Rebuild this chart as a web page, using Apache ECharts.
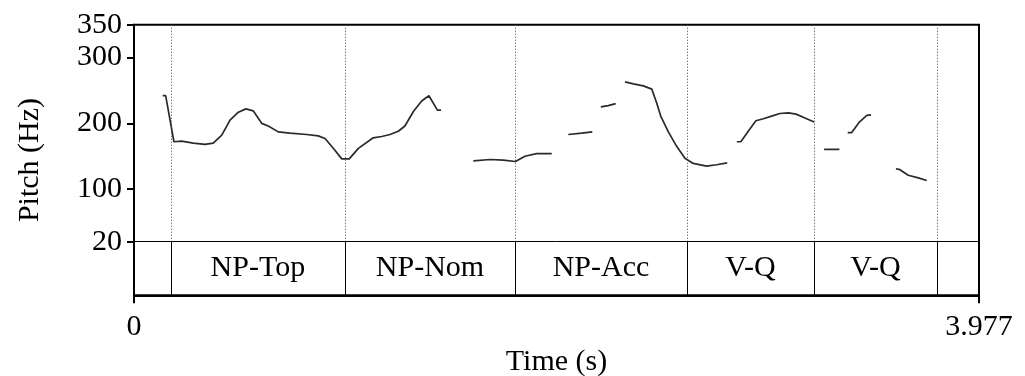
<!DOCTYPE html>
<html>
<head>
<meta charset="utf-8">
<script src="https://cdn.jsdelivr.net/npm/echarts@6/dist/echarts.min.js"></script>
<style>
  html, body { margin: 0; padding: 0; background: #fff; }
  #chart { width: 1025px; height: 376px; }
</style>
</head>
<body>
<div id="chart"></div>
<script>
// Time axis (s) and pitch axis (Hz)
const TIME_END = 3.977;
const TIME_TICKS = [0, 3.977];
const PITCH_TICKS = [20, 100, 200, 300, 350];
const PITCH_MAX = 350;
const TIER_FLOOR = -61.5;   // lower edge of the annotation tier, in Hz units of the axis

// Interval tier: boundaries (s) and labels
const tierBounds = [0.173, 0.993, 1.793, 2.603, 3.200, 3.779];
const tierLabels = ['NP-Top', 'NP-Nom', 'NP-Acc', 'V-Q', 'V-Q'];

// Pitch contour, voiced stretches as [time s, F0 Hz]
const seg1 = [
  [0.135, 242], [0.149, 242], [0.188, 172], [0.224, 173], [0.279, 170], [0.334, 168],
  [0.373, 170], [0.413, 182], [0.452, 205], [0.491, 217], [0.527, 222], [0.561, 219],
  [0.601, 200], [0.632, 196], [0.679, 187], [0.734, 185], [0.813, 183], [0.867, 181],
  [0.899, 177], [0.938, 162], [0.978, 146], [1.013, 146], [1.056, 162], [1.126, 178],
  [1.166, 180], [1.205, 183], [1.244, 188], [1.275, 196], [1.315, 218], [1.354, 234],
  [1.388, 242], [1.428, 220], [1.445, 220]
];
const seg2 = [
  [1.597, 143], [1.676, 145], [1.738, 144], [1.795, 142], [1.840, 150], [1.895, 154], [1.966, 154]
];
const seg3 = [[2.044, 183], [2.107, 185], [2.157, 187]];
const seg4 = [[2.197, 225], [2.232, 227], [2.267, 230]];
const seg5 = [
  [2.311, 263], [2.350, 260], [2.397, 257], [2.437, 252], [2.460, 231], [2.479, 211],
  [2.515, 187], [2.554, 165], [2.593, 147], [2.632, 139], [2.695, 135], [2.742, 137], [2.792, 140]
];
const seg6 = [
  [2.837, 172], [2.856, 172], [2.891, 188], [2.927, 204], [2.962, 207], [3.001, 211],
  [3.040, 215], [3.080, 216], [3.116, 214], [3.158, 208], [3.201, 202]
];
const seg7 = [[3.248, 160.5], [3.320, 160.5]];
const seg8 = [[3.359, 186], [3.378, 186], [3.414, 202], [3.449, 212], [3.469, 213]];
const seg9 = [[3.586, 131], [3.605, 129.5], [3.644, 121], [3.691, 117], [3.731, 113]];

const segments = [seg1, seg2, seg3, seg4, seg5, seg6, seg7, seg8, seg9];

// Join the voiced stretches into one series, with gaps between them
const contour = [];
segments.forEach((s, i) => {
  if (i > 0) contour.push([null, null]);
  s.forEach(p => contour.push(p));
});

const FONT = "'Liberation Serif', 'DejaVu Serif', serif";
const FS = 30;

// Tier boundary lines: dotted through the pitch area, solid inside the tier
const boundaryLines = [];
tierBounds.forEach(t => {
  boundaryLines.push([
    { coord: [t, 20], lineStyle: { type: [1, 2], color: '#444', width: 1 } },
    { coord: [t, PITCH_MAX] }
  ]);
  boundaryLines.push([
    { coord: [t, TIER_FLOOR], lineStyle: { type: 'solid', color: '#000', width: 1 } },
    { coord: [t, 20] }
  ]);
});
boundaryLines.push([
  { coord: [0, 20], lineStyle: { type: 'solid', color: '#000', width: 1 } },
  { coord: [TIME_END, 20] }
]);

// Tier label positions: centred in each interval
const tierY = (20 + TIER_FLOOR) / 2;
const tierPoints = tierLabels.map((name, i) => ({
  name: name,
  value: [(tierBounds[i] + tierBounds[i + 1]) / 2, tierY]
}));

const chart = echarts.init(document.getElementById('chart'), null, { renderer: 'canvas' });
chart.setOption({
  backgroundColor: '#fff',
  animation: false,
  grid: {
    left: 134, right: 46, top: 24.7, bottom: 80.7,
    containLabel: false,
    outerBoundsMode: 'none',
    show: true, borderColor: '#000', borderWidth: 2
  },
  xAxis: {
    type: 'value',
    min: 0, max: TIME_END,
    name: 'Time (s)',
    nameLocation: 'middle',
    nameGap: 41,
    nameTextStyle: { fontFamily: FONT, fontSize: FS, color: '#000' },
    axisLine: { show: true, onZero: false, lineStyle: { color: '#000', width: 2 } },
    axisTick: { show: true, inside: false, length: 8, customValues: TIME_TICKS, lineStyle: { color: '#000', width: 2 } },
    axisLabel: {
      show: true, customValues: TIME_TICKS, margin: 17,
      fontFamily: FONT, fontSize: FS, color: '#000',
      formatter: v => String(v)
    },
    splitLine: { show: false }
  },
  yAxis: {
    type: 'value',
    min: TIER_FLOOR, max: PITCH_MAX,
    name: 'Pitch (Hz)',
    nameLocation: 'middle',
    nameRotate: 90,
    nameGap: 89,
    nameTextStyle: { fontFamily: FONT, fontSize: FS, color: '#000' },
    axisLine: { show: true, onZero: false, lineStyle: { color: '#000', width: 2 } },
    axisTick: { show: true, inside: false, length: 7, customValues: PITCH_TICKS, lineStyle: { color: '#000', width: 2 } },
    axisLabel: {
      show: true, customValues: PITCH_TICKS, margin: 12,
      fontFamily: FONT, fontSize: FS, color: '#000'
    },
    splitLine: { show: false }
  },
  series: [
    {
      name: 'F0',
      type: 'line',
      data: contour,
      connectNulls: false,
      showSymbol: false,
      symbol: 'none',
      smooth: false,
      lineStyle: { color: '#2a2a2a', width: 1.7 },
      silent: true,
      z: 3
    },
    {
      name: 'tier',
      type: 'scatter',
      data: tierPoints,
      symbolSize: 0,
      silent: true,
      itemStyle: { opacity: 1 },
      label: {
        show: true,
        position: 'inside',
        formatter: p => p.name,
        fontFamily: FONT, fontSize: FS, color: '#000', opacity: 1
      },
      markLine: {
        silent: true,
        symbol: ['none', 'none'],
        label: { show: false },
        data: boundaryLines
      },
      z: 2
    }
  ]
});
</script>
</body>
</html>
